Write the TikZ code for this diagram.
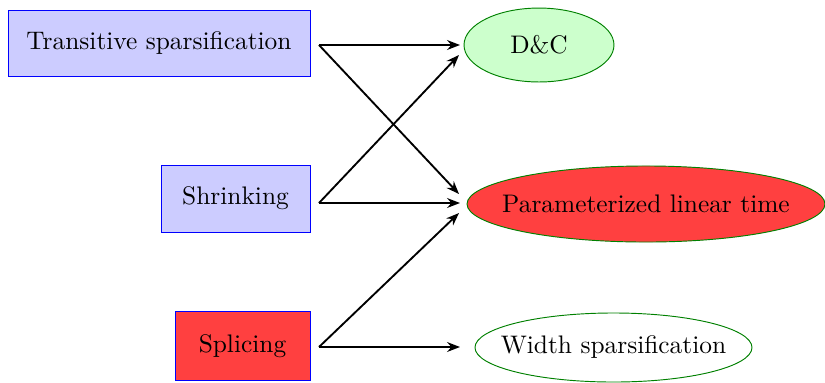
\documentclass[tikz,border=0pt]{standalone}
\usetikzlibrary{shapes.geometric,arrows.meta}
\begin{document}
\begin{tikzpicture}[x=0.4274pt,y=-0.4274pt,
  font=\fontsize{10.85}{13}\selectfont,
  boxa/.style={draw=blue,rectangle,inner sep=0pt},
  ell/.style={draw=green!50!black,ellipse,inner sep=0pt},
  conn/.style={thick,-{Stealth[length=5.5pt,width=4.2pt]}}]
\useasboundingbox (0,0) rectangle (825,382);
\node[boxa,fill=blue!20,minimum width=129.1pt,minimum height=28.2pt] (ts) at (159,43) {Transitive sparsification};
\node[boxa,fill=blue!20,minimum width=63.7pt,minimum height=28.6pt] (sh) at (235.5,198.5) {Shrinking};
\node[boxa,fill=red!75,minimum width=57.7pt,minimum height=29.1pt] (sp) at (242.5,346) {Splicing};
\node[ell,fill=green!20,minimum width=64.1pt,minimum height=31.6pt] (dc) at (539,45) {\makebox[0pt]{D\&C}};
\node[ell,fill=red!75,minimum width=153pt,minimum height=32.5pt] (pl) at (646,204) {\makebox[0pt]{Parameterized linear time}};
\node[ell,fill=white,minimum width=118.4pt,minimum height=29.5pt] (ws) at (613.5,347.5) {\makebox[0pt]{Width sparsification}};
\coordinate (s1) at (319,45);
\coordinate (s2) at (319,203);
\coordinate (s3) at (319,347);
\coordinate (dcin1) at (460,45);
\coordinate (dcin2) at (459,55);
\coordinate (plin1) at (459,194);
\coordinate (plin2) at (460,203);
\coordinate (plin3) at (459,213);
\coordinate (wsin) at (460,347);
\draw[conn] (s1) -- (dcin1);
\draw[conn] (s1) -- (plin1);
\draw[conn] (s2) -- (dcin2);
\draw[conn] (s2) -- (plin2);
\draw[conn] (s3) -- (plin3);
\draw[conn] (s3) -- (wsin);
\end{tikzpicture}
\end{document}
